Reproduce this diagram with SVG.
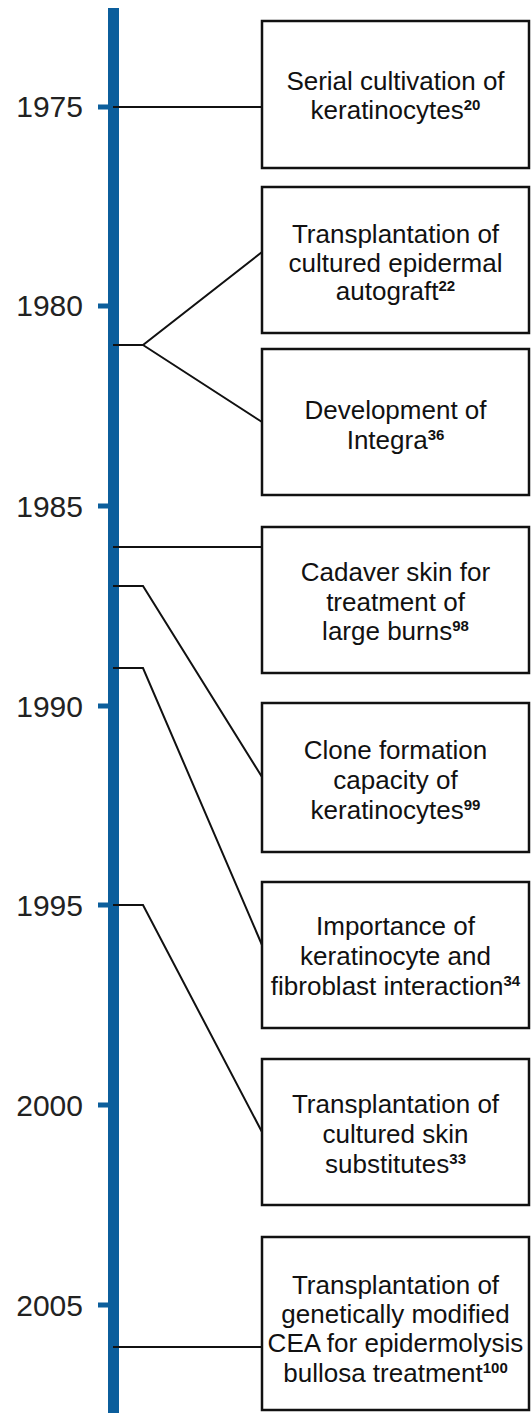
<svg xmlns="http://www.w3.org/2000/svg" width="532" height="1413" viewBox="0 0 532 1413">
<style>
.axis{fill:#0b5e9c}
.yr{font-family:"Liberation Sans",Arial,sans-serif;font-size:30px;fill:#222;text-anchor:end}
.box{fill:#fff;stroke:#111;stroke-width:2.5}
.lbl{font-family:"Liberation Sans",Arial,sans-serif;font-size:26px;fill:#111;text-anchor:middle}
.sup{font-size:15px;font-weight:bold}
.con{fill:none;stroke:#111;stroke-width:2;stroke-linejoin:miter}
</style>
<rect width="532" height="1413" fill="#fff"/>
<g id="axis">
<rect class="axis" x="108" y="8" width="11" height="1405"/>
<rect class="axis" x="98" y="104.5" width="11" height="5"/>
<rect class="axis" x="98" y="303.5" width="11" height="5"/>
<rect class="axis" x="98" y="503.5" width="11" height="5"/>
<rect class="axis" x="98" y="703.5" width="11" height="5"/>
<rect class="axis" x="98" y="902.5" width="11" height="5"/>
<rect class="axis" x="98" y="1102.5" width="11" height="5"/>
<rect class="axis" x="98" y="1302.5" width="11" height="5"/>
<text class="yr" x="83" y="117">1975</text>
<text class="yr" x="83" y="316">1980</text>
<text class="yr" x="83" y="517">1985</text>
<text class="yr" x="83" y="717">1990</text>
<text class="yr" x="83" y="916">1995</text>
<text class="yr" x="83" y="1116">2000</text>
<text class="yr" x="83" y="1316">2005</text>
</g>
<g id="connectors">
<path class="con" d="M113,107H262"/>
<path class="con" d="M113,345H143L262,252M143,345L262,422"/>
<path class="con" d="M113,547H262"/>
<path class="con" d="M113,586H143L262,777"/>
<path class="con" d="M113,668H143L262,945"/>
<path class="con" d="M113,905H143L262,1132"/>
<path class="con" d="M113,1347H262"/>
</g>
<g id="n1">
<rect class="box" x="262" y="21" width="267" height="147"/>
<text class="lbl" x="395.5" y="90">Serial cultivation of</text>
<text class="lbl" x="395.5" y="119">keratinocytes<tspan class="sup" dy="-9">20</tspan></text>
</g>
<g id="n2">
<rect class="box" x="262" y="187" width="267" height="146"/>
<text class="lbl" x="395.5" y="243">Transplantation of</text>
<text class="lbl" x="395.5" y="272">cultured epidermal</text>
<text class="lbl" x="395.5" y="300">autograft<tspan class="sup" dy="-9">22</tspan></text>
</g>
<g id="n3">
<rect class="box" x="262" y="349" width="267" height="146"/>
<text class="lbl" x="395.5" y="419">Development of</text>
<text class="lbl" x="395.5" y="449">Integra<tspan class="sup" dy="-9">36</tspan></text>
</g>
<g id="n4">
<rect class="box" x="262" y="527" width="267" height="146"/>
<text class="lbl" x="395.5" y="581">Cadaver skin for</text>
<text class="lbl" x="395.5" y="611">treatment of</text>
<text class="lbl" x="395.5" y="640">large burns<tspan class="sup" dy="-9">98</tspan></text>
</g>
<g id="n5">
<rect class="box" x="262" y="703" width="267" height="149"/>
<text class="lbl" x="395.5" y="759">Clone formation</text>
<text class="lbl" x="395.5" y="789">capacity of</text>
<text class="lbl" x="395.5" y="819">keratinocytes<tspan class="sup" dy="-9">99</tspan></text>
</g>
<g id="n6">
<rect class="box" x="262" y="882" width="267" height="146"/>
<text class="lbl" x="395.5" y="935">Importance of</text>
<text class="lbl" x="395.5" y="965">keratinocyte and</text>
<text class="lbl" x="395.5" y="995">fibroblast interaction<tspan class="sup" dy="-9">34</tspan></text>
</g>
<g id="n7">
<rect class="box" x="262" y="1059" width="267" height="146"/>
<text class="lbl" x="395.5" y="1113">Transplantation of</text>
<text class="lbl" x="395.5" y="1143">cultured skin</text>
<text class="lbl" x="395.5" y="1173">substitutes<tspan class="sup" dy="-9">33</tspan></text>
</g>
<g id="n8">
<rect class="box" x="262" y="1237" width="267" height="173"/>
<text class="lbl" x="395.5" y="1294">Transplantation of</text>
<text class="lbl" x="395.5" y="1323">genetically modified</text>
<text class="lbl" x="395.5" y="1352">CEA for epidermolysis</text>
<text class="lbl" x="395.5" y="1382">bullosa treatment<tspan class="sup" dy="-9">100</tspan></text>
</g>
</svg>
